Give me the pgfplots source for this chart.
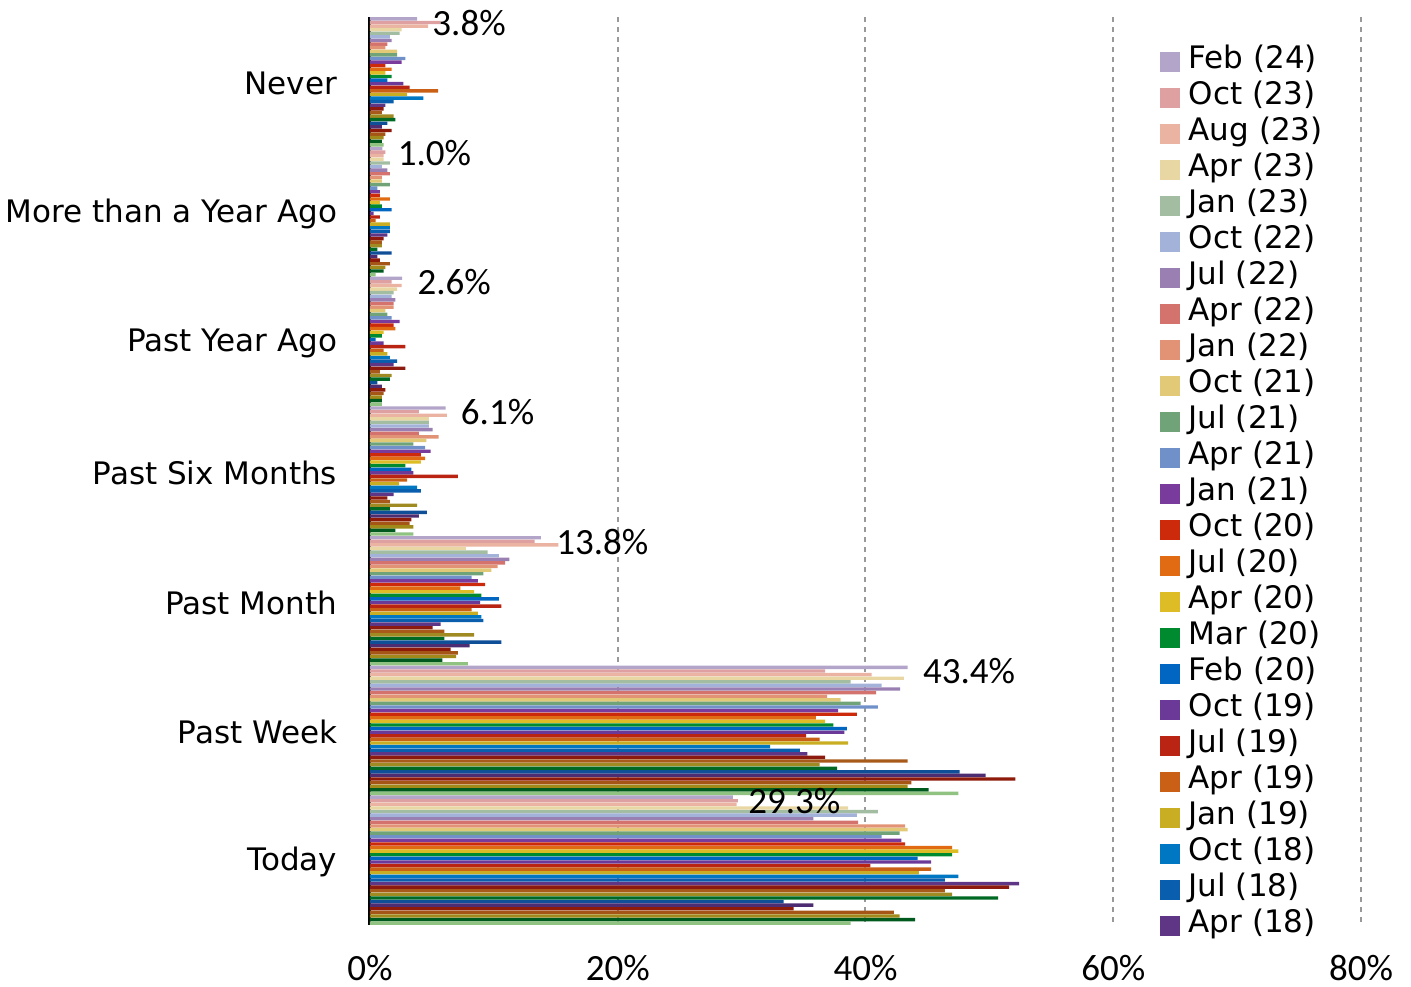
\documentclass[border=0pt]{standalone}
\usepackage{pgfplots}
\pgfplotsset{compat=1.18}
\usepackage{fontspec}
\setmainfont{DejaVu Sans}
\newfontfamily\numfont{Carlito}
\definecolor{c1}{HTML}{B3A4C9}
\definecolor{c2}{HTML}{DEA0A0}
\definecolor{c3}{HTML}{EBB3A2}
\definecolor{c4}{HTML}{E8D7A3}
\definecolor{c5}{HTML}{A2BDA2}
\definecolor{c6}{HTML}{A2B2D9}
\definecolor{c7}{HTML}{9A80B2}
\definecolor{c8}{HTML}{D4736E}
\definecolor{c9}{HTML}{E39375}
\definecolor{c10}{HTML}{E2C978}
\definecolor{c11}{HTML}{70A378}
\definecolor{c12}{HTML}{7090CA}
\definecolor{c13}{HTML}{7A3C9C}
\definecolor{c14}{HTML}{CD2A0C}
\definecolor{c15}{HTML}{E06B12}
\definecolor{c16}{HTML}{DDBC25}
\definecolor{c17}{HTML}{008A30}
\definecolor{c18}{HTML}{0066C2}
\definecolor{c19}{HTML}{6B3A98}
\definecolor{c20}{HTML}{B92512}
\definecolor{c21}{HTML}{C96015}
\definecolor{c22}{HTML}{C9AD22}
\definecolor{c23}{HTML}{0077C2}
\definecolor{c24}{HTML}{0A5EAE}
\definecolor{c25}{HTML}{5F3585}
\definecolor{c26}{HTML}{8C1A0E}
\definecolor{c27}{HTML}{A85A1A}
\definecolor{c28}{HTML}{A08A22}
\definecolor{c29}{HTML}{006A25}
\definecolor{c30}{HTML}{0E4F98}
\definecolor{c31}{HTML}{4E2C72}
\definecolor{c32}{HTML}{8E1A0A}
\definecolor{c33}{HTML}{A55515}
\definecolor{c34}{HTML}{A28A1A}
\definecolor{c35}{HTML}{005A1E}
\definecolor{c36}{HTML}{90C282}
\begin{document}
\begin{tikzpicture}
\begin{axis}[
  xbar, bar width=1.7bp,
  width=495.5bp, height=454bp, scale only axis,
  xmin=0, xmax=80, ymin=-0.5, ymax=6.5, y dir=reverse,
  separate axis lines,
  x axis line style={draw=none},
  axis y line*=left,
  y axis line style={line width=1.5bp, black},
  xtick={0,20,40,60,80},
  xticklabels={0\%,20\%,40\%,60\%,80\%},
  xticklabel style={font=\numfont\fontsize{18.5bp}{20bp}\selectfont, inner sep=0pt, yshift=-15bp},
  ytick={0,1,2,3,4,5,6},
  yticklabels={Never,More than a Year Ago,Past Year Ago,Past Six Months,Past Month,Past Week,Today},
  yticklabel style={font=\fontsize{15.5bp}{18bp}\selectfont, inner sep=0pt, xshift=-12bp, yshift=-1bp},
  tick style={draw=none},
  xmajorgrids,
  major grid style={gray!80, line width=1bp, dash pattern=on 2.5bp off 2.5bp},
  clip=false,
  every axis plot/.append style={draw=none},
  legend style={at={(0.797,0.9705)}, anchor=north west, draw=none, fill=none, inner sep=0pt,
    font=\fontsize{15.5bp}{18bp}\selectfont, row sep=0pt,
    nodes={inner ysep=0pt, inner xsep=1.75bp, text height=12bp, text depth=6bp}},
  legend cell align=left,
  legend image code/.code={\fill[#1] (0bp,-5bp) rectangle (10bp,5bp); \path (12.5bp,0bp);},
]
\addplot[fill=c1, bar shift=31.5bp, point meta=x, nodes near coords={\numfont\pgfmathprintnumber[fixed,fixed zerofill,precision=1,assume math mode=true]{\pgfplotspointmeta}\%},
  every node near coord/.append style={font=\fontsize{18.5bp}{20bp}\selectfont, anchor=west, inner xsep=0pt, xshift=7.5bp, yshift=-2bp, text=black}]
  coordinates {(3.8,0) (1.0,1) (2.6,2) (6.1,3) (13.8,4) (43.4,5) (29.3,6)};
\addplot[fill=c2, bar shift=29.7bp] coordinates {(5.7,0) (1.25,1) (1.75,2) (3.95,3) (13.3,4) (36.75,5) (29.7,6)};
\addplot[fill=c3, bar shift=27.9bp] coordinates {(4.7,0) (1.1,1) (2.55,2) (6.2,3) (15.2,4) (40.5,5) (29.6,6)};
\addplot[fill=c4, bar shift=26.1bp] coordinates {(2.55,0) (1.1,1) (2.2,2) (4.75,3) (7.75,4) (43.1,5) (38.6,6)};
\addplot[fill=c5, bar shift=24.3bp] coordinates {(2.4,0) (1.6,1) (1.9,2) (4.75,3) (9.5,4) (38.8,5) (41.0,6)};
\addplot[fill=c6, bar shift=22.5bp] coordinates {(1.6,0) (0.95,1) (1.75,2) (4.75,3) (10.4,4) (41.3,5) (39.3,6)};
\addplot[fill=c7, bar shift=20.7bp] coordinates {(1.75,0) (1.4,1) (2.05,2) (5.05,3) (11.25,4) (42.8,5) (35.8,6)};
\addplot[fill=c8, bar shift=18.9bp] coordinates {(1.4,0) (1.6,1) (1.9,2) (3.95,3) (10.9,4) (40.85,5) (39.4,6)};
\addplot[fill=c9, bar shift=17.1bp] coordinates {(1.25,0) (0.95,1) (1.9,2) (5.55,3) (10.3,4) (36.9,5) (43.2,6)};
\addplot[fill=c10, bar shift=15.3bp] coordinates {(2.2,0) (0.95,1) (1.25,2) (4.55,3) (9.8,4) (38.0,5) (43.4,6)};
\addplot[fill=c11, bar shift=13.5bp] coordinates {(2.2,0) (1.6,1) (1.4,2) (3.5,3) (9.15,4) (39.6,5) (42.75,6)};
\addplot[fill=c12, bar shift=11.7bp] coordinates {(2.85,0) (0.6,1) (1.75,2) (4.45,3) (8.2,4) (41.0,5) (41.3,6)};
\addplot[fill=c13, bar shift=9.9bp] coordinates {(2.55,0) (0.8,1) (2.4,2) (4.9,3) (8.7,4) (37.8,5) (42.9,6)};
\addplot[fill=c14, bar shift=8.1bp] coordinates {(1.25,0) (0.8,1) (1.9,2) (4.1,3) (9.3,4) (39.3,5) (43.2,6)};
\addplot[fill=c15, bar shift=6.3bp] coordinates {(1.75,0) (1.6,1) (2.05,2) (4.45,3) (7.3,4) (36.0,5) (47.0,6)};
\addplot[fill=c16, bar shift=4.5bp] coordinates {(1.25,0) (0.8,1) (1.1,2) (4.1,3) (8.4,4) (36.75,5) (47.5,6)};
\addplot[fill=c17, bar shift=2.7bp] coordinates {(1.75,0) (0.95,1) (0.95,2) (2.85,3) (9.0,4) (37.4,5) (47.0,6)};
\addplot[fill=c18, bar shift=0.9bp] coordinates {(1.4,0) (1.75,1) (0.45,2) (3.35,3) (10.4,4) (38.5,5) (44.2,6)};
\addplot[fill=c19, bar shift=-0.9bp] coordinates {(2.7,0) (0.3,1) (1.1,2) (3.5,3) (8.9,4) (38.3,5) (45.3,6)};
\addplot[fill=c20, bar shift=-2.7bp] coordinates {(3.2,0) (0.8,1) (2.85,2) (7.1,3) (10.6,4) (35.2,5) (40.4,6)};
\addplot[fill=c21, bar shift=-4.5bp] coordinates {(5.5,0) (0.45,1) (1.1,2) (3.0,3) (8.2,4) (36.3,5) (45.3,6)};
\addplot[fill=c22, bar shift=-6.3bp] coordinates {(3.0,0) (1.6,1) (1.4,2) (2.35,3) (8.7,4) (38.6,5) (44.3,6)};
\addplot[fill=c23, bar shift=-8.1bp] coordinates {(4.3,0) (1.6,1) (1.6,2) (3.8,3) (9.0,4) (32.3,5) (47.5,6)};
\addplot[fill=c24, bar shift=-9.9bp] coordinates {(1.9,0) (1.6,1) (2.2,2) (4.1,3) (9.15,4) (34.7,5) (46.4,6)};
\addplot[fill=c25, bar shift=-11.7bp] coordinates {(1.25,0) (1.4,1) (1.9,2) (1.9,3) (5.7,4) (35.3,5) (52.4,6)};
\addplot[fill=c26, bar shift=-13.5bp, forget plot] coordinates {(1.1,0) (1.1,1) (2.85,2) (1.4,3) (5.05,4) (36.75,5) (51.6,6)};
\addplot[fill=c27, bar shift=-15.3bp, forget plot] coordinates {(0.95,0) (0.95,1) (0.8,2) (1.6,3) (6.0,4) (43.4,5) (46.4,6)};
\addplot[fill=c28, bar shift=-17.1bp, forget plot] coordinates {(1.9,0) (0.95,1) (1.75,2) (3.8,3) (8.4,4) (36.3,5) (47.0,6)};
\addplot[fill=c29, bar shift=-18.9bp, forget plot] coordinates {(2.05,0) (0.6,1) (1.6,2) (1.6,3) (6.0,4) (37.7,5) (50.7,6)};
\addplot[fill=c30, bar shift=-20.7bp, forget plot] coordinates {(1.4,0) (1.75,1) (0.6,2) (4.6,3) (10.6,4) (47.6,5) (33.4,6)};
\addplot[fill=c31, bar shift=-22.5bp, forget plot] coordinates {(0.95,0) (0.6,1) (0.95,2) (3.95,3) (8.05,4) (49.7,5) (35.8,6)};
\addplot[fill=c32, bar shift=-24.3bp, forget plot] coordinates {(1.75,0) (0.8,1) (1.25,2) (3.35,3) (6.5,4) (52.1,5) (34.2,6)};
\addplot[fill=c33, bar shift=-26.1bp, forget plot] coordinates {(1.25,0) (1.6,1) (1.1,2) (3.2,3) (7.1,4) (43.7,5) (42.3,6)};
\addplot[fill=c34, bar shift=-27.9bp, forget plot] coordinates {(1.1,0) (1.25,1) (0.95,2) (3.5,3) (6.95,4) (43.4,5) (42.75,6)};
\addplot[fill=c35, bar shift=-29.7bp, forget plot] coordinates {(0.95,0) (1.1,1) (0.95,2) (2.05,3) (5.85,4) (45.1,5) (44.0,6)};
\addplot[fill=c36, bar shift=-31.5bp, forget plot] coordinates {(1.1,0) (0.45,1) (0.95,2) (3.5,3) (7.9,4) (47.5,5) (38.8,6)};
\legend{Feb (24),Oct (23),Aug (23),Apr (23),Jan (23),Oct (22),Jul (22),Apr (22),Jan (22),Oct (21),Jul (21),Apr (21),Jan (21),Oct (20),Jul (20),Apr (20),Mar (20),Feb (20),Oct (19),Jul (19),Apr (19),Jan (19),Oct (18),Jul (18),Apr (18)}
\coordinate (SW) at (axis description cs:0,0);
\end{axis}
\pgfresetboundingbox
\path ([shift={(-185bp,-31bp)}]SW) rectangle ++(705.5bp,493.5bp);
\end{tikzpicture}
\end{document}
